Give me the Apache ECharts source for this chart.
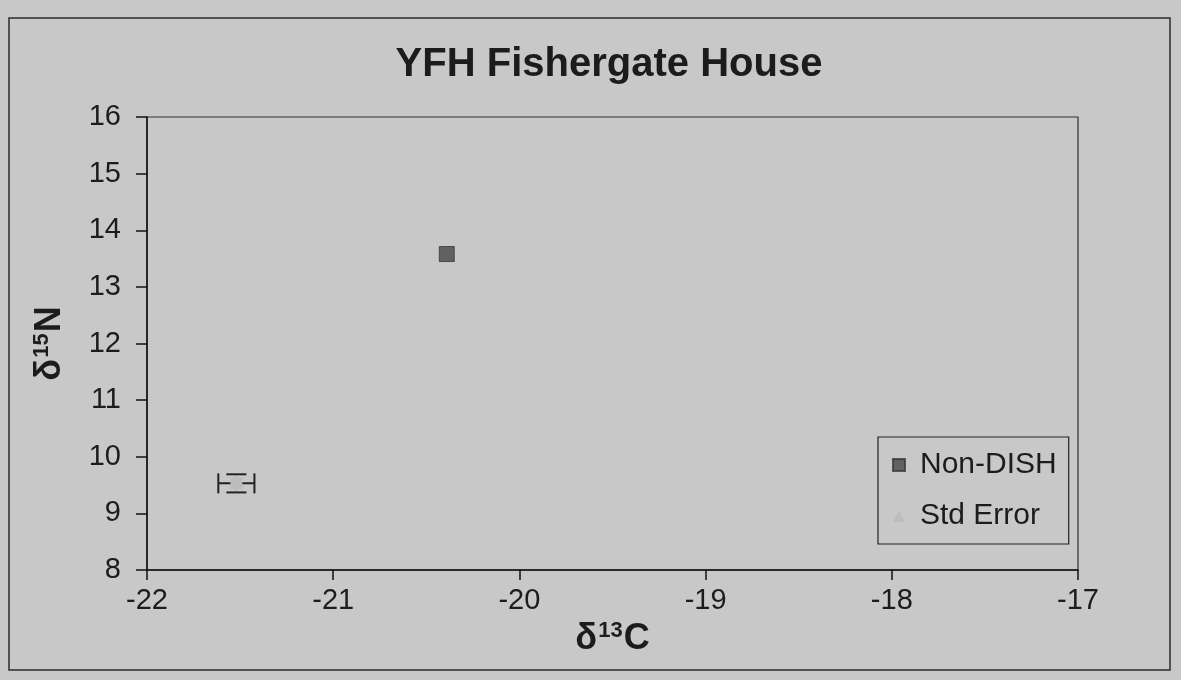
<!DOCTYPE html>
<html>
<head>
<meta charset="utf-8">
<script src="https://cdn.jsdelivr.net/npm/echarts@6/dist/echarts.min.js"></script>
<style>
html,body{margin:0;padding:0;background:#c8c8c8;}
#main{width:1181px;height:680px;}
</style>
</head>
<body>
<div id="main"></div>
<script>
// ---- data ----
const titleText = 'YFH Fishergate House';
const xTicks = [-22, -21, -20, -19, -18, -17];
const yTicks = [8, 9, 10, 11, 12, 13, 14, 15, 16];
const nonDishX = [-20.39];
const nonDishY = [13.58];
const stdErrX = [-21.52];
const stdErrY = [9.53];
const stdErrXErr = [0.097];
const stdErrYErr = [0.16];
const seriesNames = ['Non-DISH', 'Std Error'];

const chart = echarts.init(document.getElementById('main'));
const font = 'Liberation Sans, Arial, sans-serif';
const ink = '#1c1c1c';

const errData = stdErrX.map((x, i) => [x, stdErrY[i], stdErrXErr[i], stdErrYErr[i]]);

const nameRich = {
  d: {fontFamily: font, fontWeight: 'bold', fontSize: 36, color: ink},
  s: {fontFamily: font, fontWeight: 'bold', fontSize: 22, color: ink, verticalAlign: 'top', padding: [0, 1, 16, 1]}
};

chart.setOption({
  backgroundColor: '#c8c8c8',
  animation: false,
  title: {
    text: titleText,
    left: 604,
    textAlign: 'center',
    top: 40,
    textStyle: {fontFamily: font, fontWeight: 'bold', fontSize: 40, color: ink}
  },
  graphic: [{
    type: 'rect',
    shape: {x: 9, y: 18, width: 1161, height: 652},
    style: {fill: 'none', stroke: '#2a2a2a', lineWidth: 1.5},
    silent: true
  }],
  grid: {left: 147, top: 117, right: 103, bottom: 110, show: true, borderColor: '#333', borderWidth: 1.2, backgroundColor: 'transparent'},
  legend: {
    orient: 'vertical',
    left: 878,
    top: 437,
    padding: [13, 12, 13, 14],
    itemGap: 21,
    itemWidth: 12,
    itemHeight: 12,
    borderColor: '#222',
    borderWidth: 1.2,
    backgroundColor: '#c8c8c8',
    textStyle: {fontFamily: font, fontSize: 30, color: ink, padding: [0, 0, 0, 10]},
    data: [
      {name: seriesNames[0], icon: 'rect'},
      {name: seriesNames[1], icon: 'triangle'}
    ]
  },
  xAxis: {
    type: 'value',
    min: xTicks[0],
    max: xTicks[xTicks.length - 1],
    interval: 1,
    name: '{d|δ}{s|13}{d|C}',
    nameLocation: 'middle',
    nameGap: 44,
    nameTextStyle: {rich: nameRich},
    axisLine: {show: true, lineStyle: {color: '#111', width: 1.5}},
    axisTick: {show: true, inside: false, length: 10, lineStyle: {color: '#111', width: 1.5}},
    axisLabel: {fontFamily: font, fontSize: 29, color: ink, margin: 16},
    splitLine: {show: false}
  },
  yAxis: {
    type: 'value',
    min: yTicks[0],
    max: yTicks[yTicks.length - 1],
    interval: 1,
    name: '{d|δ}{s|15}{d|N}',
    nameLocation: 'middle',
    nameRotate: 90,
    nameGap: 78,
    nameTextStyle: {rich: nameRich},
    axisLine: {show: true, lineStyle: {color: '#111', width: 1.5}},
    axisTick: {show: true, inside: false, length: 11, lineStyle: {color: '#111', width: 1.5}},
    axisLabel: {fontFamily: font, fontSize: 29, color: ink, margin: 26},
    splitLine: {show: false}
  },
  series: [
    {
      name: seriesNames[0],
      type: 'scatter',
      symbol: 'rect',
      symbolSize: 15,
      itemStyle: {color: '#474747', borderColor: '#3a3a3a', borderWidth: 1},
      data: nonDishX.map((x, i) => [x, nonDishY[i]])
    },
    {
      name: seriesNames[1],
      type: 'custom',
      renderItem: function (params, api) {
        const x = api.value(0), y = api.value(1), ex = api.value(2), ey = api.value(3);
        const c = api.coord([x, y]);
        const l = api.coord([x - ex, y]);
        const r = api.coord([x + ex, y]);
        const t = api.coord([x, y + ey]);
        const b = api.coord([x, y - ey]);
        const cap = 10;
        const st = {stroke: '#222', lineWidth: 2};
        return {
          type: 'group',
          children: [
            {type: 'line', shape: {x1: l[0], y1: l[1], x2: r[0], y2: r[1]}, style: st},
            {type: 'line', shape: {x1: l[0], y1: l[1] - cap, x2: l[0], y2: l[1] + cap}, style: st},
            {type: 'line', shape: {x1: r[0], y1: r[1] - cap, x2: r[0], y2: r[1] + cap}, style: st},
            {type: 'line', shape: {x1: t[0], y1: t[1], x2: b[0], y2: b[1]}, style: {stroke: '#aaa', lineWidth: 1}},
            {type: 'line', shape: {x1: t[0] - cap, y1: t[1], x2: t[0] + cap, y2: t[1]}, style: st},
            {type: 'line', shape: {x1: b[0] - cap, y1: b[1], x2: b[0] + cap, y2: b[1]}, style: st},
            {type: 'rect', shape: {x: c[0] - 6, y: c[1] - 6, width: 12, height: 12}, style: {fill: '#bcbcbc'}}
          ]
        };
      },
      itemStyle: {color: '#bdbdbd'},
      data: errData
    }
  ]
});
</script>
</body>
</html>
